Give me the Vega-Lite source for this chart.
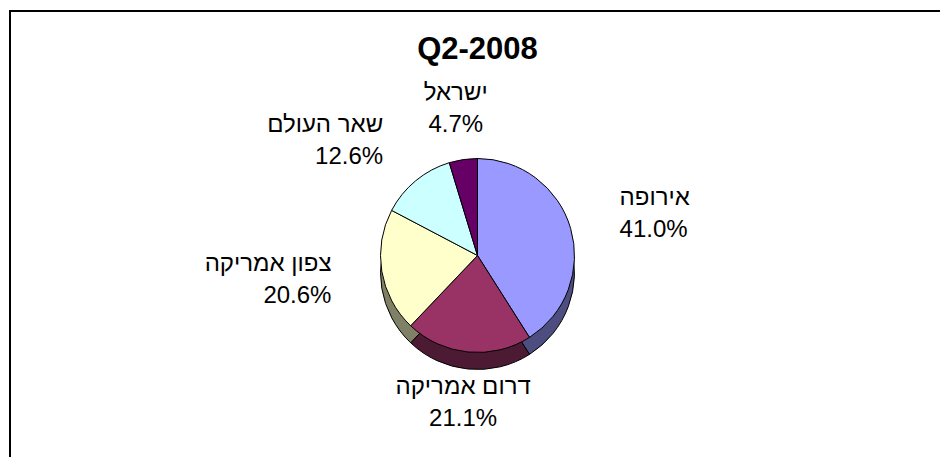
{
  "$schema": "https://vega.github.io/schema/vega-lite/v6.json",
  "autosize": {"type": "fit", "contains": "padding"},
  "width": 940,
  "height": 457,
  "padding": {"left": 9, "top": 10, "right": -6, "bottom": -6},
  "background": "white",
  "config": {
    "view": {"stroke": null},
    "font": "Liberation Sans"
  },
  "title": {
    "text": "Q2-2008",
    "font": "Liberation Sans",
    "fontSize": 31,
    "fontWeight": "bold",
    "color": "black",
    "anchor": "middle",
    "offset": -56
  },
  "data": {
    "values": [
      {"region": "אירופה", "share": 0.410, "order": 1, "top": "#9999FF", "side": "#4D4D80"},
      {"region": "דרום אמריקה", "share": 0.211, "order": 2, "top": "#993366", "side": "#4D1A33"},
      {"region": "צפון אמריקה", "share": 0.206, "order": 3, "top": "#FFFFCC", "side": "#808066"},
      {"region": "שאר העולם", "share": 0.126, "order": 4, "top": "#CCFFFF", "side": "#668080"},
      {"region": "ישראל", "share": 0.047, "order": 5, "top": "#660066", "side": "#330033"}
    ]
  },
  "layer": [
    {
      "data": {"values": [{"frame": 1}]},
      "mark": {"type": "rect", "fill": "white", "stroke": "black", "strokeWidth": 2},
      "encoding": {}
    },
    {
      "encoding": {
        "theta": {"field": "share", "type": "quantitative", "stack": true},
        "order": {"field": "order", "type": "quantitative"}
      },
      "layer": [
        {
          "mark": {"type": "arc", "outerRadius": 97, "yOffset": 36, "stroke": "black", "strokeWidth": 1},
          "encoding": {
            "color": {"field": "side", "type": "nominal", "scale": null}
          }
        },
        {
          "mark": {"type": "arc", "outerRadius": 97, "yOffset": 19, "stroke": "black", "strokeWidth": 1},
          "encoding": {
            "color": {"field": "top", "type": "nominal", "scale": null}
          }
        },
        {
          "mark": {
            "type": "text", "radius": 148, "yOffset": 19, "dy": -16, "fontSize": 24, "font": "Liberation Sans", "color": "black",
            "align": {"expr": "((datum.share_start + datum.share_end) / 2 < 0.1 || abs((datum.share_start + datum.share_end) / 2 - 0.5) < 0.1 || (datum.share_start + datum.share_end) / 2 > 0.95) ? 'center' : ((datum.share_start + datum.share_end) / 2 < 0.5 ? 'left' : 'right')"}
          },
          "encoding": {
            "text": {"field": "region", "type": "nominal"}
          }
        },
        {
          "mark": {
            "type": "text", "radius": 148, "yOffset": 19, "dy": 16, "fontSize": 24, "font": "Liberation Sans", "color": "black",
            "align": {"expr": "((datum.share_start + datum.share_end) / 2 < 0.1 || abs((datum.share_start + datum.share_end) / 2 - 0.5) < 0.1 || (datum.share_start + datum.share_end) / 2 > 0.95) ? 'center' : ((datum.share_start + datum.share_end) / 2 < 0.5 ? 'left' : 'right')"}
          },
          "encoding": {
            "text": {"field": "share", "type": "quantitative", "format": ".1%"}
          }
        }
      ]
    }
  ]
}
